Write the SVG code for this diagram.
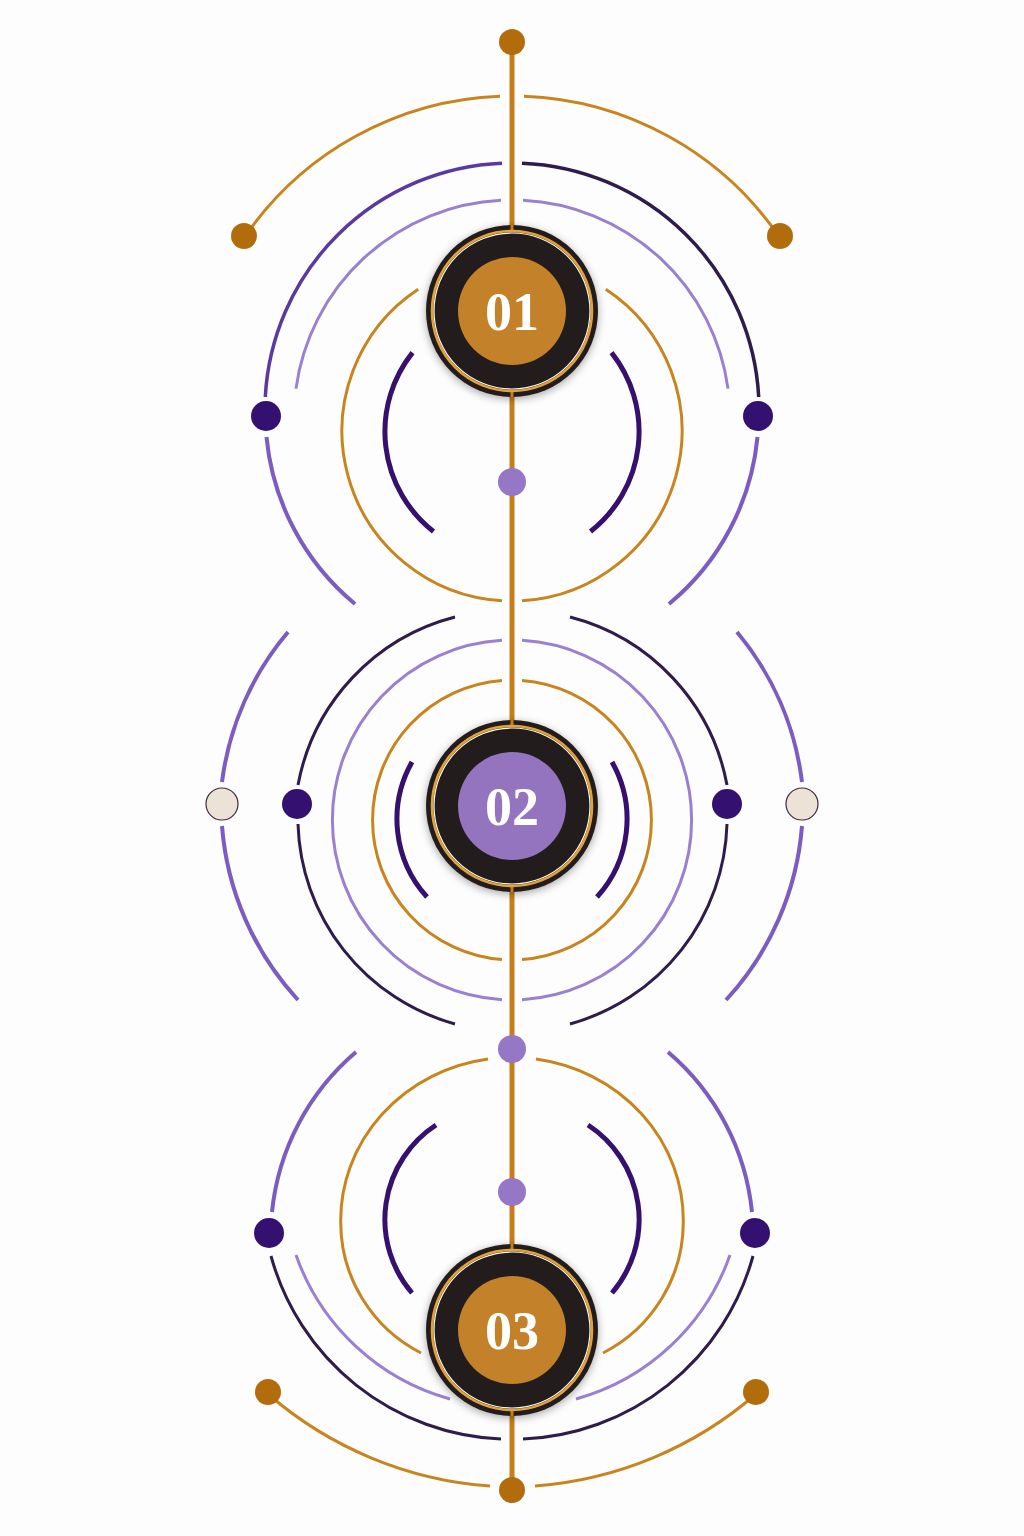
<svg xmlns="http://www.w3.org/2000/svg" width="1024" height="1536" viewBox="0 0 1024 1536">
<defs>
<style>
.spine{stroke:#c47f1c;stroke-width:5;fill:none}
.gold{fill:none;stroke:#c8851e;stroke-width:3}
.mid{fill:none;stroke:#7b5cc0;stroke-width:4}
.midd{fill:none;stroke:#5a3aa0;stroke-width:3.5}
.dark{fill:none;stroke:#2e1c4c;stroke-width:3}
.lite{fill:none;stroke:#9a80d0;stroke-width:3}
.inner{fill:none;stroke:#35106e;stroke-width:5}
.gdot{fill:#b36c0c}
.pdot{fill:#341070}
.ldot{fill:#9577c6}
.cdot{fill:#ece3d6;stroke:#3a2a40;stroke-width:1.2}
.ring{fill:#231b1b}
.gring{fill:none;stroke:#e2a236;stroke-width:2.6}
.wring{fill:none;stroke:#fff8ec;stroke-width:1.2}
.num{font-family:"Liberation Serif","DejaVu Serif",serif;font-size:54px;font-weight:bold;fill:#ffffff;text-anchor:middle}
</style>
<filter id="sh" x="-30%" y="-30%" width="160%" height="160%">
<feGaussianBlur in="SourceAlpha" stdDeviation="4"/>
<feOffset dy="2"/>
<feComponentTransfer><feFuncA type="linear" slope="0.35"/></feComponentTransfer>
<feMerge><feMergeNode/><feMergeNode in="SourceGraphic"/></feMerge>
</filter>
</defs>
<rect width="1024" height="1536" fill="#fdfdfd"/>

<g id="connectors">
<line class="spine" x1="512" y1="42" x2="512" y2="1490"/>

<!-- top section -->
<path class="gold" d="M500 96.2 A324 324 0 0 0 244.6 237.1"/>
<path class="gold" d="M524 96.2 A324 324 0 0 1 779.4 237.1"/>
<path class="midd" d="M502 163.2 A247 247 0 0 0 265.3 397"/>
<path class="dark" style="stroke-width:3.5" d="M522 163.2 A247 247 0 0 1 758.7 397"/>
<path class="mid" d="M266.5 437 A247 247 0 0 0 355 604"/>
<path class="mid" d="M757.5 437 A247 247 0 0 1 669 604"/>
<path class="lite" d="M501 200.3 A218 218 0 0 0 296 388.6"/>
<path class="lite" d="M523 200.3 A218 218 0 0 1 728 388.6"/>
<path class="gold" d="M418.2 289.2 A170 170 0 0 0 502 600.7"/>
<path class="gold" d="M605.8 289.2 A170 170 0 0 1 522 600.7"/>
<path class="inner" d="M412.5 352.6 A127 127 0 0 0 433.5 531.5"/>
<path class="inner" d="M611.5 352.6 A127 127 0 0 1 590.5 531.5"/>

<!-- middle section -->
<path class="mid" d="M288 632 A290 290 0 0 0 222 782"/>
<path class="mid" d="M222 826 A290 290 0 0 0 298 1000"/>
<path class="mid" d="M737 632 A290 290 0 0 1 802 782"/>
<path class="mid" d="M802 826 A290 290 0 0 1 726 1000"/>
<path class="dark" d="M455 617 A214 214 0 0 0 298 785"/>
<path class="dark" d="M298 824 A214 214 0 0 0 455 1024"/>
<path class="dark" d="M570 617 A214 214 0 0 1 727 785"/>
<path class="dark" d="M727 824 A214 214 0 0 1 570 1024"/>
<path class="lite" d="M502 640.3 A180 180 0 0 0 502 999.7"/>
<path class="lite" d="M522 640.3 A180 180 0 0 1 522 999.7"/>
<path class="gold" d="M502 680.4 A140 140 0 0 0 502 959.6"/>
<path class="gold" d="M522 680.4 A140 140 0 0 1 522 959.6"/>
<path class="inner" d="M412 762 A116 116 0 0 0 427 897"/>
<path class="inner" d="M612 762 A116 116 0 0 1 597 897"/>

<!-- bottom section -->
<path class="mid" d="M356 1052 A242 242 0 0 0 272 1212"/>
<path class="mid" d="M668 1052 A242 242 0 0 1 752 1212"/>
<path class="gold" d="M488 1059 A172 163 0 0 0 340.7 1222 A147 147 0 0 0 421 1353"/>
<path class="gold" d="M536 1059 A172 163 0 0 1 683.3 1222 A147 147 0 0 1 603 1353"/>
<path class="inner" d="M436 1125 A113 113 0 0 0 412 1293"/>
<path class="inner" d="M588 1125 A113 113 0 0 1 612 1293"/>
<path class="lite" d="M296 1255 A228 228 0 0 0 450 1399"/>
<path class="lite" d="M730 1255 A228 228 0 0 1 576 1399"/>
<path class="dark" d="M271 1256 A249 249 0 0 0 501 1439"/>
<path class="dark" d="M753 1256 A249 249 0 0 1 523 1439"/>
<path class="gold" d="M268 1394 A380 380 0 0 0 490 1486"/>
<path class="gold" d="M756 1394 A380 380 0 0 1 535 1486"/>
</g>

<g id="dots">
<circle class="gdot" cx="512" cy="42" r="13"/>
<circle class="gdot" cx="244" cy="236" r="13"/>
<circle class="gdot" cx="780" cy="236" r="13"/>
<circle class="pdot" cx="266" cy="416" r="15"/>
<circle class="pdot" cx="758" cy="416" r="15"/>
<circle class="ldot" cx="512" cy="482" r="14"/>
<circle class="cdot" cx="222" cy="804" r="16"/>
<circle class="pdot" cx="297" cy="804" r="15"/>
<circle class="pdot" cx="727" cy="804" r="15"/>
<circle class="cdot" cx="802" cy="804" r="16"/>
<circle class="ldot" cx="512" cy="1049" r="14"/>
<circle class="ldot" cx="512" cy="1192" r="14"/>
<circle class="pdot" cx="269" cy="1233" r="15"/>
<circle class="pdot" cx="755" cy="1233" r="15"/>
<circle class="gdot" cx="268" cy="1392" r="13"/>
<circle class="gdot" cx="756" cy="1392" r="13"/>
<circle class="gdot" cx="512" cy="1490" r="13"/>
</g>

<g id="node-01" transform="translate(512 311)">
<circle class="ring" r="86" filter="url(#sh)"/>
<line x1="0" y1="-86" x2="0" y2="-80" stroke="#c47f1c" stroke-width="3"/>
<line x1="0" y1="80" x2="0" y2="86" stroke="#c47f1c" stroke-width="3"/>
<circle class="gring" r="80"/>
<circle class="wring" r="78"/>
<circle r="54" fill="#c3812a"/>
<text class="num" x="0" y="19">01</text>
</g>

<g id="node-02" transform="translate(512 806)">
<circle class="ring" r="86" filter="url(#sh)"/>
<line x1="0" y1="-86" x2="0" y2="-80" stroke="#c47f1c" stroke-width="3"/>
<line x1="0" y1="80" x2="0" y2="86" stroke="#c47f1c" stroke-width="3"/>
<circle class="gring" r="80"/>
<circle class="wring" r="78"/>
<circle r="54" fill="#9474bf"/>
<text class="num" x="0" y="19">02</text>
</g>

<g id="node-03" transform="translate(512 1330)">
<circle class="ring" r="86" filter="url(#sh)"/>
<line x1="0" y1="-86" x2="0" y2="-80" stroke="#c47f1c" stroke-width="3"/>
<line x1="0" y1="80" x2="0" y2="86" stroke="#c47f1c" stroke-width="3"/>
<circle class="gring" r="80"/>
<circle class="wring" r="78"/>
<circle r="54" fill="#c3812a"/>
<text class="num" x="0" y="19">03</text>
</g>
</svg>
